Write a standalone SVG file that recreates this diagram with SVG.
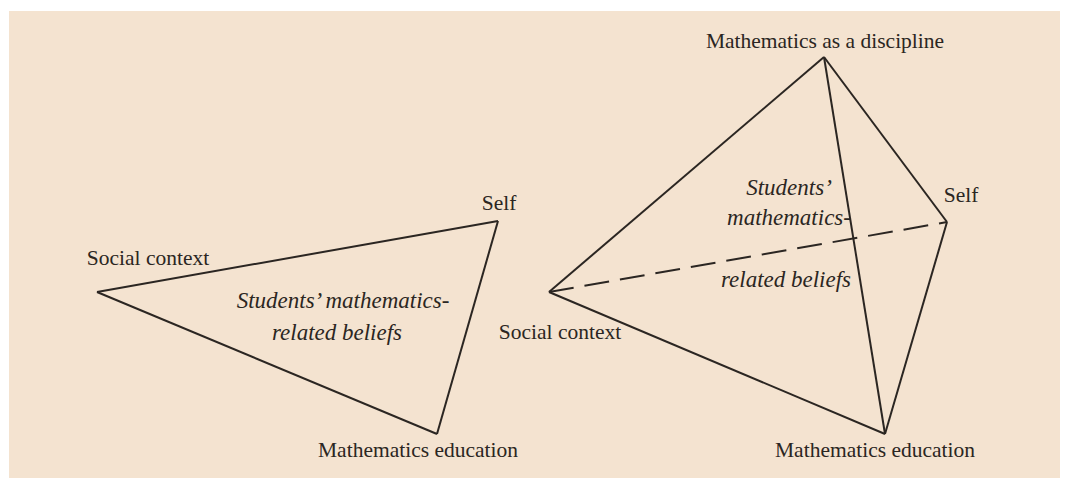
<svg xmlns="http://www.w3.org/2000/svg" width="1074" height="479" viewBox="0 0 1074 479">
  <style>
    .edge { stroke: #2b2622; stroke-width: 2; fill: none; stroke-linejoin: miter; }
    .hidden { stroke-dasharray: 25 11; }
    .lbl { font-family: "Liberation Serif", "Times New Roman", serif; font-size: 21.5px; fill: #2b2622; text-anchor: middle; }
    .core { font-style: italic; font-size: 23px; }
  </style>
  <rect x="0" y="0" width="1074" height="479" fill="#ffffff"/>
  <rect x="9" y="11" width="1051" height="467" fill="#f4e3d0"/>

  <!-- triangle model: edges -->
  <g id="connectors">
    <g id="triangle-edges">
      <line class="edge" x1="97" y1="292" x2="498" y2="221"/>
      <line class="edge" x1="498" y1="221" x2="437" y2="434"/>
      <line class="edge" x1="437" y1="434" x2="97" y2="292"/>
    </g>
    <!-- tetrahedron model: edges, the back edge dashed -->
    <g id="tetra-edges">
      <line class="edge" x1="824" y1="57" x2="549" y2="292"/>
      <line class="edge" x1="824" y1="57" x2="947" y2="222"/>
      <line class="edge" x1="824" y1="57" x2="885" y2="434"/>
      <line class="edge" x1="947" y1="222" x2="885" y2="434"/>
      <line class="edge" x1="549" y1="292" x2="885" y2="434"/>
      <line class="edge hidden" x1="549" y1="292" x2="947" y2="222"/>
    </g>
  </g>

  <g id="tri-social">
    <text class="lbl" x="148" y="265">Social context</text>
  </g>
  <g id="tri-self">
    <text class="lbl" x="499" y="210">Self</text>
  </g>
  <g id="tri-education">
    <text class="lbl" x="418" y="457">Mathematics education</text>
  </g>
  <g id="tri-beliefs">
    <text class="lbl core" x="343" y="308">Students’ mathematics-</text>
    <text class="lbl core" x="337" y="340">related beliefs</text>
  </g>

  <g id="tet-discipline">
    <text class="lbl" x="825" y="48">Mathematics as a discipline</text>
  </g>
  <g id="tet-self">
    <text class="lbl" x="961" y="202">Self</text>
  </g>
  <g id="tet-social">
    <text class="lbl" x="560" y="339">Social context</text>
  </g>
  <g id="tet-education">
    <text class="lbl" x="875" y="457">Mathematics education</text>
  </g>
  <g id="tet-beliefs">
    <text class="lbl core" x="789" y="195">Students’</text>
    <text class="lbl core" x="789" y="225">mathematics-</text>
    <text class="lbl core" x="786" y="287">related beliefs</text>
  </g>
</svg>
